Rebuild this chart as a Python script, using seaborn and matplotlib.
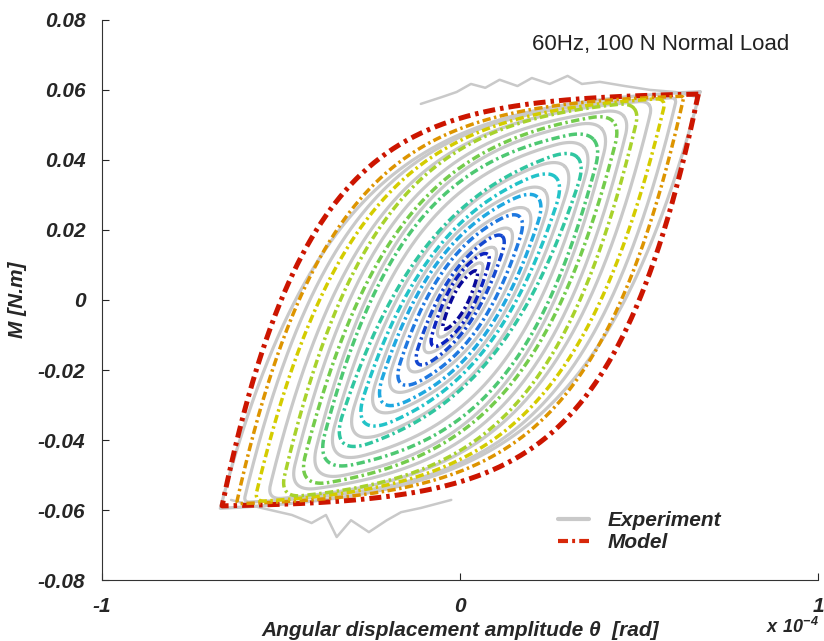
import numpy as np
import pandas as pd
import matplotlib
matplotlib.use("Agg")
import matplotlib.pyplot as plt
import seaborn as sns
from matplotlib.lines import Line2D

# ---- model loops (outer -> inner), theta in 1e-4 rad, M in N.m ----
# tip amplitude, moment at tip, theta where M crosses 0, tip rounding
model_theta_amp = [0.665, 0.625, 0.575, 0.505, 0.455, 0.405, 0.365, 0.305, 0.25, 0.195, 0.14, 0.092, 0.055]
model_m_amp = [0.0588, 0.0582, 0.0576, 0.0565, 0.0535, 0.049, 0.0445, 0.039, 0.033, 0.027, 0.021, 0.015, 0.0095]
model_theta_zero = [0.50, 0.45, 0.393, 0.335, 0.285, 0.25, 0.195, 0.16, 0.13, 0.098, 0.065, 0.045, 0.025]
model_round = [0.0, 0.006, 0.018, 0.04, 0.06, 0.08, 0.10, 0.12, 0.13, 0.14, 0.15, 0.15, 0.15]
model_colors = ["#cc1500", "#dd9400", "#d4cc00", "#a8d22c", "#74cc4c", "#4ec872", "#30c6a0",
                "#22c3c8", "#1fa8e0", "#1f78e0", "#1448d0", "#0b22c0", "#08089a"]

# ---- experiment loops ----
exp_theta_amp = [0.67, 0.605, 0.54, 0.48, 0.425, 0.38, 0.33, 0.27, 0.22, 0.165, 0.115, 0.072]
exp_m_amp = [0.0595, 0.0578, 0.057, 0.0548, 0.0518, 0.047, 0.042, 0.035, 0.029, 0.023, 0.017, 0.012]
exp_theta_zero = [0.46, 0.42, 0.36, 0.31, 0.265, 0.225, 0.18, 0.145, 0.115, 0.08, 0.055, 0.035]
exp_round = [0.0, 0.01, 0.025, 0.05, 0.07, 0.09, 0.11, 0.125, 0.135, 0.145, 0.15, 0.15]

# jagged experimental traces along the top and bottom plateaus
exp_top_theta = [-0.11, -0.05, -0.01, 0.03, 0.07, 0.11, 0.16, 0.20, 0.25, 0.30, 0.34, 0.39, 0.46, 0.53, 0.60, 0.66]
exp_top_m = [0.056, 0.058, 0.0594, 0.0617, 0.0606, 0.0629, 0.0611, 0.0634, 0.0617, 0.064, 0.0617, 0.0623, 0.0611, 0.060, 0.0594, 0.058]
exp_bot_theta = [-0.64, -0.555, -0.47, -0.415, -0.375, -0.345, -0.305, -0.255, -0.205, -0.165, -0.11, -0.025]
exp_bot_m = [-0.0571, -0.0594, -0.0614, -0.0637, -0.0614, -0.0677, -0.0629, -0.0663, -0.0629, -0.0606, -0.0594, -0.0571]

y_ticks = [-0.08, -0.06, -0.04, -0.02, 0, 0.02, 0.04, 0.06, 0.08]
y_labels = ["-0.08", "-0.06", "-0.04", "-0.02", "0", "0.02", "0.04", "0.06", "0.08"]
x_ticks = [-1, 0, 1]
x_labels = ["-1", "0", "1"]


def branch_g(u, lam):
    return (1 - np.exp(-u / lam)) / (1 - np.exp(-1 / lam))


def find_lam(u0):
    lo, hi = 0.005, 20.0
    for _ in range(80):
        mid = 0.5 * (lo + hi)
        if branch_g(u0, mid) > 0.5:
            lo = mid
        else:
            hi = mid
    return 0.5 * (lo + hi)


def loop_points(a, b, c, r, n=720):
    # lens made of two exponential branches, tips rounded by a running mean
    t = np.linspace(0, 2 * np.pi, 2000, endpoint=False)
    x = a * np.cos(t)
    lam = find_lam((a - c) / (2 * a))
    upper = t <= np.pi
    u = np.where(upper, (x + a) / (2 * a), (a - x) / (2 * a))
    y = np.where(upper, -b + 2 * b * branch_g(u, lam), b - 2 * b * branch_g(u, lam))
    # even spacing along the drawn curve (axis units ~ pixels)
    px, py = x * 358.0, y * 3500.0
    seg = np.hypot(np.diff(np.r_[px, px[0]]), np.diff(np.r_[py, py[0]]))
    s = np.r_[0, np.cumsum(seg)]
    s_new = np.linspace(0, s[-1], n, endpoint=False)
    x = np.interp(s_new, s, np.r_[x, x[0]])
    y = np.interp(s_new, s, np.r_[y, y[0]])
    w = int(r * n)
    if w > 1:
        k = np.ones(w) / w
        x = np.convolve(np.r_[x[-w:], x, x[:w]], k, mode="same")[w:-w]
        y = np.convolve(np.r_[y[-w:], y, y[:w]], k, mode="same")[w:-w]
    return np.r_[x, x[0]], np.r_[y, y[0]]


sns.set_theme(style="ticks")
plt.rcParams["font.family"] = ["Liberation Sans", "DejaVu Sans"]
plt.rcParams["axes.unicode_minus"] = False
plt.rcParams["mathtext.fontset"] = "custom"
plt.rcParams["mathtext.bf"] = "Liberation Sans:bold:italic"
plt.rcParams["mathtext.rm"] = "Liberation Sans:bold:italic"

fig = plt.figure(figsize=(8.24, 6.41), dpi=100)
ax = fig.add_axes([0.124, 0.095, 0.869, 0.874])

gray = "#c9c9c9"
for a, b, c, r in zip(exp_theta_amp, exp_m_amp, exp_theta_zero, exp_round):
    x, y = loop_points(a, b, c, r)
    sns.lineplot(x=x, y=y, sort=False, estimator=None, color=gray, lw=2.3, ax=ax)
sns.lineplot(x=exp_top_theta, y=exp_top_m, sort=False, estimator=None, color=gray, lw=1.8, ax=ax)
sns.lineplot(x=exp_bot_theta, y=exp_bot_m, sort=False, estimator=None, color=gray, lw=1.8, ax=ax)

dash = (0, (2.4, 1.0, 0.7, 1.0))
for i, (a, b, c, r) in enumerate(zip(model_theta_amp, model_m_amp, model_theta_zero, model_round)):
    x, y = loop_points(a, b, c, r)
    lw = 3.6 if i == 0 else 2.5
    sns.lineplot(x=x, y=y, sort=False, estimator=None, color=model_colors[i], lw=lw,
                 linestyle=dash, ax=ax)

ax.set_xlim(-1, 1)
ax.set_ylim(-0.08, 0.08)
ax.set_xticks(x_ticks)
ax.set_xticklabels(x_labels)
ax.set_yticks(y_ticks)
ax.set_yticklabels(y_labels)
ax.tick_params(direction="in", length=5, width=0.8, pad=12, labelsize=15)
for lab in ax.get_xticklabels() + ax.get_yticklabels():
    lab.set_fontweight("bold")
    lab.set_fontstyle("italic")
sns.despine(ax=ax)
for sp in ["left", "bottom"]:
    ax.spines[sp].set_linewidth(0.8)
    ax.spines[sp].set_color("#333333")

ax.set_xlabel("Angular displacement amplitude \u03b8  [rad]", fontsize=15,
              fontweight="bold", fontstyle="italic", labelpad=4)
ax.set_ylabel("M [N.m]", fontsize=15, fontweight="bold", fontstyle="italic", labelpad=8)

ax.text(0.2, 0.0715, "60Hz, 100 N Normal Load", fontsize=16, color="#222222")
fig.text(0.93, 0.012, r"$\mathbf{x\ 10^{-4}}$", fontsize=13)

handles = [Line2D([], [], color=gray, lw=3),
           Line2D([], [], color="#d8280a", lw=3, linestyle=dash)]
ax.legend(handles, ["Experiment", "Model"], loc="lower left", bbox_to_anchor=(0.625, 0.035),
          frameon=False, handlelength=1.5, handletextpad=0.9, labelspacing=0.15,
          borderaxespad=0, prop={"size": 15, "weight": "bold", "style": "italic"})

fig.savefig("out.png", dpi=100, facecolor="white")
